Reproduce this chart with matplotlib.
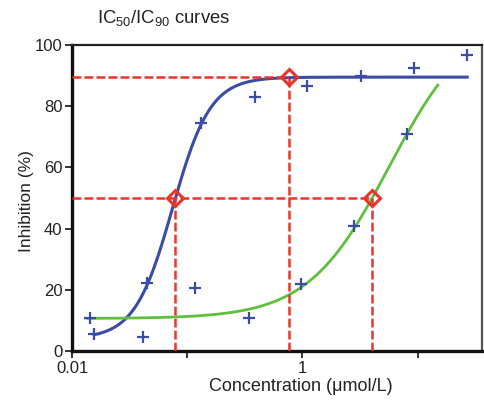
import numpy as np
import matplotlib.pyplot as plt

plt.rcParams["font.family"] = ["Liberation Sans", "DejaVu Sans"]
plt.rcParams["mathtext.fontset"] = "custom"
plt.rcParams["mathtext.rm"] = "Liberation Sans"
plt.rcParams["mathtext.it"] = "Liberation Sans"

# measured points (all drawn as blue crosses)
blue_x = [0.0155, 0.045, 0.132, 0.385, 1.1, 3.2, 9.3, 27]
blue_y = [5.5, 22.1, 74.6, 83.1, 86.7, 89.9, 92.4, 96.7]
green_x = [0.0143, 0.0415, 0.117, 0.342, 0.97, 2.83, 8.1]
green_y = [10.8, 4.7, 20.7, 10.9, 21.8, 40.8, 70.9]

# fitted logistic curves: bottom, top, midpoint, hill slope, x range
blue_fit = dict(bottom=4.0, top=89.5, mid=0.0746, hill=2.65, xmin=0.0155, xmax=27)
green_fit = dict(bottom=10.6, top=110.0, mid=5.68, hill=1.23, xmin=0.0135, xmax=15)

# IC50 / IC90 markers
ic_x = [0.079, 0.77, 4.05]
ic_y = [50, 89.5, 50]


def logistic(fit):
    x = np.logspace(np.log10(fit["xmin"]), np.log10(fit["xmax"]), 300)
    y = fit["bottom"] + (fit["top"] - fit["bottom"]) / (1 + (fit["mid"] / x) ** fit["hill"])
    return x, y


fig = plt.figure(figsize=(4.84, 4.0), dpi=100)
ax = fig.add_axes([0.149, 0.1225, 0.846, 0.765])

bx, by = logistic(blue_fit)
gx, gy = logistic(green_fit)
ax.plot(bx, by, color="#3a4ca6", lw=2.2, zorder=3)
ax.plot(gx, gy, color="#5fbf3f", lw=2.0, zorder=3)

ax.plot(blue_x, blue_y, "+", color="#3a4ca6", ms=8, mew=1.6, zorder=4)
ax.plot(green_x, green_y, "+", color="#3a4ca6", ms=8, mew=1.6, zorder=4)

red = "#e8352b"
dash = (0, (3.5, 1.3))
xmin = 0.01
for x, y in zip(ic_x, ic_y):
    ax.plot([x, x], [0, y], color=red, lw=1.8, ls=dash, zorder=5)
ax.plot([xmin, ic_x[1]], [ic_y[1], ic_y[1]], color=red, lw=1.8, ls=dash, zorder=5)
ax.plot([xmin, ic_x[2]], [ic_y[2], ic_y[2]], color=red, lw=1.8, ls=dash, zorder=5)
ax.plot(ic_x, ic_y, "D", ms=8.5, mfc="none", mec=red, mew=2.2, zorder=6)

ax.set_xscale("log")
ax.set_xlim(0.01, 36)
ax.set_ylim(0, 100)
ax.set_xticks([0.01, 0.1, 1, 10])
ax.set_xticklabels(["0.01", "", "1", ""])
ax.xaxis.set_minor_locator(plt.NullLocator())
ax.set_yticks([0, 20, 40, 60, 80, 100])
ax.tick_params(axis="both", direction="out", length=5, width=1.2, pad=2,
               labelsize=12, color="#111111", labelcolor="#222222")

for side in ["left", "bottom"]:
    ax.spines[side].set_linewidth(2.4)
    ax.spines[side].set_color("#111111")
ax.spines["top"].set_linewidth(1.6)
ax.spines["top"].set_color("#222222")
ax.spines["right"].set_linewidth(1.6)
ax.spines["right"].set_color("#555555")

ax.set_xlabel("Concentration (\u03bcmol/L)", fontsize=13, color="#222222")
ax.xaxis.set_label_coords(0.558, -0.088)
ax.set_ylabel("Inhibition (%)", fontsize=12.5, color="#222222")
ax.yaxis.set_label_coords(-0.093, 0.49)
fig.text(0.2, 0.955, "IC$_{50}$/IC$_{90}$ curves", fontsize=13.3, ha="left", va="center",
         color="#222222")

fig.savefig("out.png", dpi=100)
